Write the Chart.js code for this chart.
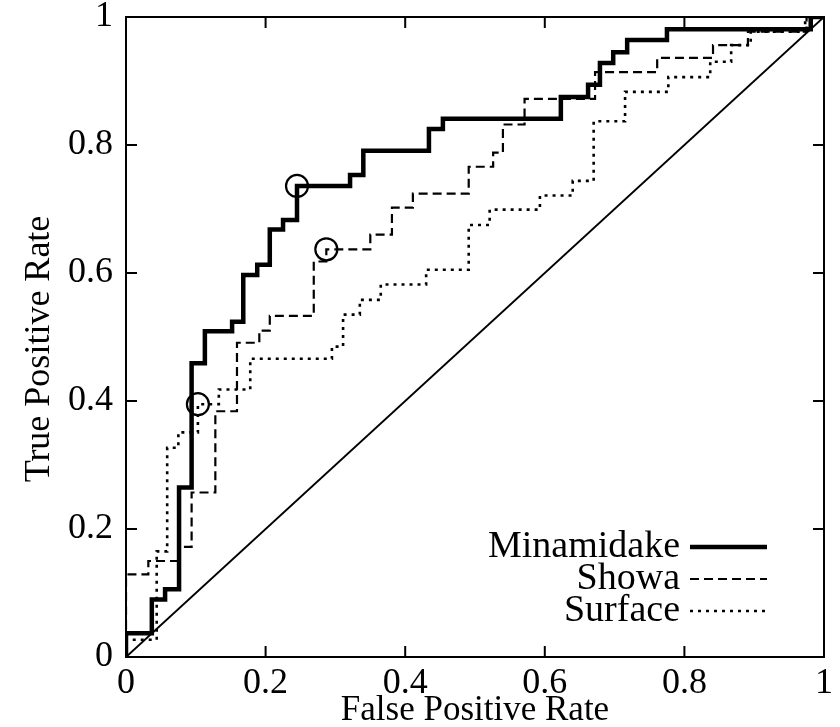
<!DOCTYPE html>
<html>
<head>
<meta charset="utf-8">
<script src="https://cdn.jsdelivr.net/npm/chart.js@4.4.1/dist/chart.umd.min.js"></script>
<style>
  body { margin: 0; background: #fff; }
  canvas { display: block; }
</style>
</head>
<body>
<canvas id="roc" width="840" height="727"></canvas>
<script>
// ROC step curves, each point = end of a horizontal run (x = FPR, y = TPR)
const minaFpr = [0, 0.037, 0.056, 0.076, 0.094, 0.113, 0.152, 0.168, 0.188, 0.206, 0.225, 0.245, 0.321, 0.340, 0.434, 0.454, 0.623, 0.662, 0.679, 0.698, 0.718, 0.775, 0.981, 1];
const minaTpr = [0, 0.037, 0.090, 0.106, 0.265, 0.459, 0.509, 0.524, 0.597, 0.613, 0.668, 0.683, 0.736, 0.753, 0.791, 0.825, 0.841, 0.875, 0.894, 0.928, 0.945, 0.964, 0.981, 1];

const showaFpr = [0, 0.032, 0.077, 0.094, 0.128, 0.159, 0.191, 0.206, 0.269, 0.287, 0.350, 0.381, 0.411, 0.491, 0.526, 0.540, 0.571, 0.672, 0.761, 0.841, 0.891, 0.975, 1];
const showaTpr = [0, 0.129, 0.150, 0.172, 0.257, 0.384, 0.491, 0.510, 0.533, 0.618, 0.637, 0.660, 0.702, 0.724, 0.766, 0.788, 0.832, 0.872, 0.914, 0.936, 0.956, 0.977, 1];

const surfFpr = [0, 0.044, 0.059, 0.075, 0.103, 0.133, 0.178, 0.295, 0.311, 0.335, 0.365, 0.430, 0.491, 0.521, 0.593, 0.640, 0.670, 0.715, 0.777, 0.837, 0.867, 0.895, 0.973, 1];
const surfTpr = [0, 0.027, 0.165, 0.327, 0.351, 0.395, 0.418, 0.466, 0.485, 0.535, 0.558, 0.582, 0.605, 0.675, 0.699, 0.721, 0.744, 0.837, 0.883, 0.906, 0.930, 0.956, 0.977, 1];

// marked operating points
const markFpr = [0.245, 0.287, 0.103];
const markTpr = [0.736, 0.637, 0.395];

const tickValues = [0, 0.2, 0.4, 0.6, 0.8, 1];
const tickLabels = ['0', '0.2', '0.4', '0.6', '0.8', '1'];
const seriesNames = ['Minamidake', 'Showa', 'Surface'];

const FONT = 'Liberation Serif, Times New Roman, serif';

function pts(xs, ys) {
  return xs.map((x, i) => ({ x: x, y: ys[i] }));
}

function setTicks(s) {
  s.ticks = tickValues.map(v => ({ value: v }));
}
function tickText(value) {
  const i = tickValues.findIndex(v => Math.abs(v - value) < 1e-9);
  return i >= 0 ? tickLabels[i] : '';
}

// box, inward ticks on all four sides, y title, legend with sample on the right
const framePlugin = {
  id: 'frame',
  afterDatasetsDraw(chart) {
    const ctx = chart.ctx;
    const a = chart.chartArea;
    const xs = chart.scales.x, ys = chart.scales.y;
    const len = 11;
    ctx.save();
    ctx.strokeStyle = '#000';
    ctx.lineWidth = 2;
    ctx.strokeRect(a.left, a.top, a.right - a.left, a.bottom - a.top);
    ctx.beginPath();
    tickValues.forEach(v => {
      const px = xs.getPixelForValue(v);
      ctx.moveTo(px, a.bottom); ctx.lineTo(px, a.bottom - len);
      ctx.moveTo(px, a.top); ctx.lineTo(px, a.top + len);
      const py = ys.getPixelForValue(v);
      ctx.moveTo(a.left, py); ctx.lineTo(a.left + len, py);
      ctx.moveTo(a.right, py); ctx.lineTo(a.right - len, py);
    });
    ctx.stroke();

    // y axis title (gnuplot puts it a bit below the centre)
    ctx.save();
    ctx.translate(40, (a.top + a.bottom) / 2 + 12);
    ctx.rotate(-Math.PI / 2);
    ctx.font = '36px ' + FONT;
    ctx.fillStyle = '#000';
    ctx.textAlign = 'center';
    ctx.textBaseline = 'middle';
    ctx.fillText('True Positive Rate', 0, 0);
    ctx.restore();

    // key
    ctx.font = '38px ' + FONT;
    ctx.fillStyle = '#000';
    ctx.textAlign = 'right';
    ctx.textBaseline = 'middle';
    const textRight = a.right - 144;
    const lineL = a.right - 134, lineR = a.right - 57;
    seriesNames.forEach((name, i) => {
      const ds = chart.data.datasets[i];
      const y = a.bottom - 110 + i * 32;
      ctx.fillText(name, textRight, y);
      ctx.beginPath();
      ctx.lineWidth = ds.borderWidth;
      ctx.setLineDash(ds.borderDash || []);
      ctx.moveTo(lineL, y);
      ctx.lineTo(lineR, y);
      ctx.stroke();
    });
    ctx.restore();
  }
};

new Chart(document.getElementById('roc'), {
  type: 'scatter',
  data: {
    datasets: [
      { label: seriesNames[0], data: pts(minaFpr, minaTpr), showLine: true, stepped: 'after',
        borderColor: '#000', borderWidth: 4.5, pointRadius: 0, fill: false },
      { label: seriesNames[1], data: pts(showaFpr, showaTpr), showLine: true, stepped: 'after',
        borderColor: '#000', borderWidth: 2.2, borderDash: [9, 5], pointRadius: 0, fill: false },
      { label: seriesNames[2], data: pts(surfFpr, surfTpr), showLine: true, stepped: 'after',
        borderColor: '#000', borderWidth: 2.6, borderDash: [3, 5], pointRadius: 0, fill: false },
      { label: 'chance', data: pts([0, 1], [0, 1]), showLine: true,
        borderColor: '#000', borderWidth: 2, pointRadius: 0, fill: false },
      { label: 'marks', data: pts(markFpr, markTpr), showLine: false,
        pointRadius: 11, pointStyle: 'circle', pointBackgroundColor: 'rgba(0,0,0,0)',
        pointBorderColor: '#000', pointBorderWidth: 2.2 }
    ]
  },
  options: {
    responsive: false,
    animation: false,
    layout: { padding: { left: 0, right: 16, top: 17, bottom: 0 } },
    plugins: {
      legend: { display: false },
      tooltip: { enabled: false }
    },
    scales: {
      x: {
        type: 'linear', min: 0, max: 1,
        afterBuildTicks: setTicks,
        afterFit: s => { s.height = 70; s.paddingLeft = 0; s.paddingRight = 0; },
        grid: { display: false, drawTicks: false },
        border: { display: false },
        ticks: { color: '#000', font: { family: FONT, size: 36 }, padding: 5, maxRotation: 0,
                 callback: tickText },
        title: { display: true, text: 'False Positive Rate', color: '#000',
                 font: { family: FONT, size: 35, lineHeight: 1 }, padding: { top: 0, bottom: -1 } }
      },
      y: {
        type: 'linear', min: 0, max: 1,
        afterBuildTicks: setTicks,
        afterFit: s => { s.width = 126; s.paddingTop = 0; s.paddingBottom = 0; },
        grid: { display: false, drawTicks: false },
        border: { display: false },
        ticks: { color: '#000', font: { family: FONT, size: 36 }, padding: 13,
                 callback: tickText },
        title: { display: false }
      }
    }
  },
  plugins: [framePlugin]
});
</script>
</body>
</html>
